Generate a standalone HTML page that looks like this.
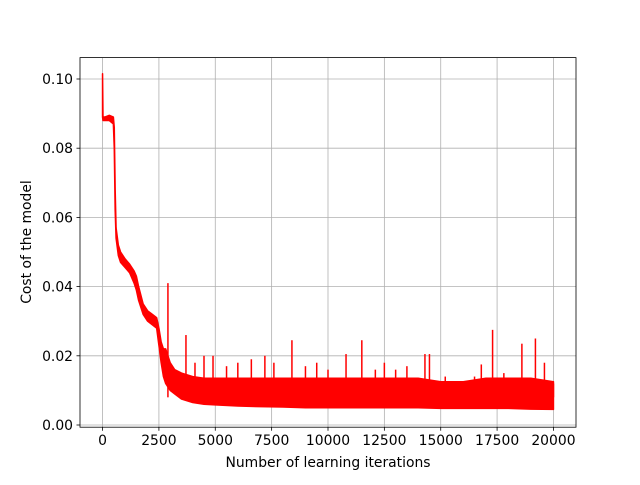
<!DOCTYPE html>
<html><head><meta charset="utf-8"><style>
body{margin:0;background:#fff;}
svg text{font-family:"DejaVu Sans","Liberation Sans",sans-serif;font-size:13.9px;fill:#000;}
</style></head><body>
<svg id="chart" width="640" height="480" xmlns="http://www.w3.org/2000/svg">
<rect width="640" height="480" fill="#fff"/>
<g id="grid"></g>
<g id="series"></g>
<rect x="80" y="57.6" width="496" height="369.6" fill="none" stroke="#000" stroke-width="0.8"/>
<g id="ticks"></g>
<text x="328" y="467" text-anchor="middle">Number of learning iterations</text>
<text transform="translate(31,242) rotate(-90)" text-anchor="middle">Cost of the model</text>
</svg>
<script>
const xTicks=[0,2500,5000,7500,10000,12500,15000,17500,20000];
const yTicks=[0,0.02,0.04,0.06,0.08,0.10];
const yTickLabels=["0.00","0.02","0.04","0.06","0.08","0.10"];
const iters=[0,20,100,300,480,520,560,600,700,800,1000,1200,1400,1500,1600,1800,2000,2200,2400,2500,2600,2700,2800,3000,3200,3500,4000,4500,5000,6000,7000,8000,9000,10000,11000,12000,13000,14000,15000,16000,17000,18000,19000,20000];
const upper=[0.1015,0.089,0.089,0.0895,0.089,0.086,0.068,0.057,0.052,0.050,0.048,0.0465,0.0445,0.043,0.040,0.035,0.033,0.032,0.031,0.028,0.024,0.022,0.022,0.018,0.016,0.015,0.014,0.0135,0.0135,0.0135,0.0135,0.0135,0.0135,0.0135,0.0135,0.0135,0.0135,0.0135,0.0125,0.0125,0.0135,0.0135,0.0135,0.0125];
const lower=[0.089,0.088,0.088,0.088,0.087,0.080,0.062,0.054,0.049,0.047,0.0455,0.044,0.041,0.039,0.036,0.032,0.030,0.029,0.028,0.023,0.018,0.014,0.012,0.010,0.009,0.0075,0.0065,0.006,0.0058,0.0055,0.0053,0.0052,0.005,0.005,0.005,0.005,0.005,0.005,0.0048,0.0048,0.0048,0.0048,0.0046,0.0045];
const spikeIters=[2900,3700,4100,4500,4900,5500,6000,6600,7200,7600,8400,9000,9500,10000,10800,11500,12100,12500,13000,13500,14300,14500,15200,16500,16800,17300,17800,18600,19200,19600,20000];
const spikeVals=[0.041,0.026,0.018,0.020,0.020,0.017,0.018,0.019,0.020,0.018,0.0245,0.017,0.018,0.016,0.0205,0.0245,0.016,0.018,0.016,0.017,0.0205,0.0205,0.014,0.014,0.0175,0.0275,0.015,0.0235,0.025,0.018,0.012];
const NS="http://www.w3.org/2000/svg";
const X=v=>80+(v+1000)/22000*496;
const Y=v=>425-v/0.1*346;
function mk(tag,attrs,parent){const e=document.createElementNS(NS,tag);for(const k in attrs)e.setAttribute(k,attrs[k]);parent.appendChild(e);return e;}
const grid=document.getElementById('grid'),ticks=document.getElementById('ticks'),ser=document.getElementById('series');
xTicks.forEach(t=>{
 const g=mk('line',{x1:X(t),x2:X(t),y1:57.6,y2:427.2,stroke:'#b0b0b0','stroke-width':0.8},grid);
 
 
 mk('line',{x1:X(t),x2:X(t),y1:427.2,y2:430.7,stroke:'#000','stroke-width':0.8},ticks);
 const l=mk('text',{x:X(t),y:445,'text-anchor':'middle'},ticks);l.textContent=t;
 
 
});
yTicks.forEach((t,i)=>{
 const g=mk('line',{x1:80,x2:576,y1:Y(t),y2:Y(t),stroke:'#b0b0b0','stroke-width':0.8},grid);
 
 
 mk('line',{x1:76.5,x2:80,y1:Y(t),y2:Y(t),stroke:'#000','stroke-width':0.8},ticks);
 const l=mk('text',{x:73,y:Y(t)+5,'text-anchor':'end'},ticks);l.textContent=yTickLabels[i];
 
 
});
let pts=iters.map((t,i)=>X(t)+','+Y(upper[i]));
for(let i=iters.length-1;i>=0;i--)pts.push(X(iters[i])+','+Y(lower[i]));
const band=mk('polygon',{points:pts.join(' '),fill:'#ff0000',stroke:'#ff0000','stroke-width':1.5,'stroke-linejoin':'round'},ser);


spikeIters.forEach((t,i)=>{
 const s=mk('line',{x1:X(t),x2:X(t),y1:Y(spikeVals[i]),y2:Y(0.008),stroke:'#ff0000','stroke-width':1.5},ser);
 
 
});
</script>
</body></html>
